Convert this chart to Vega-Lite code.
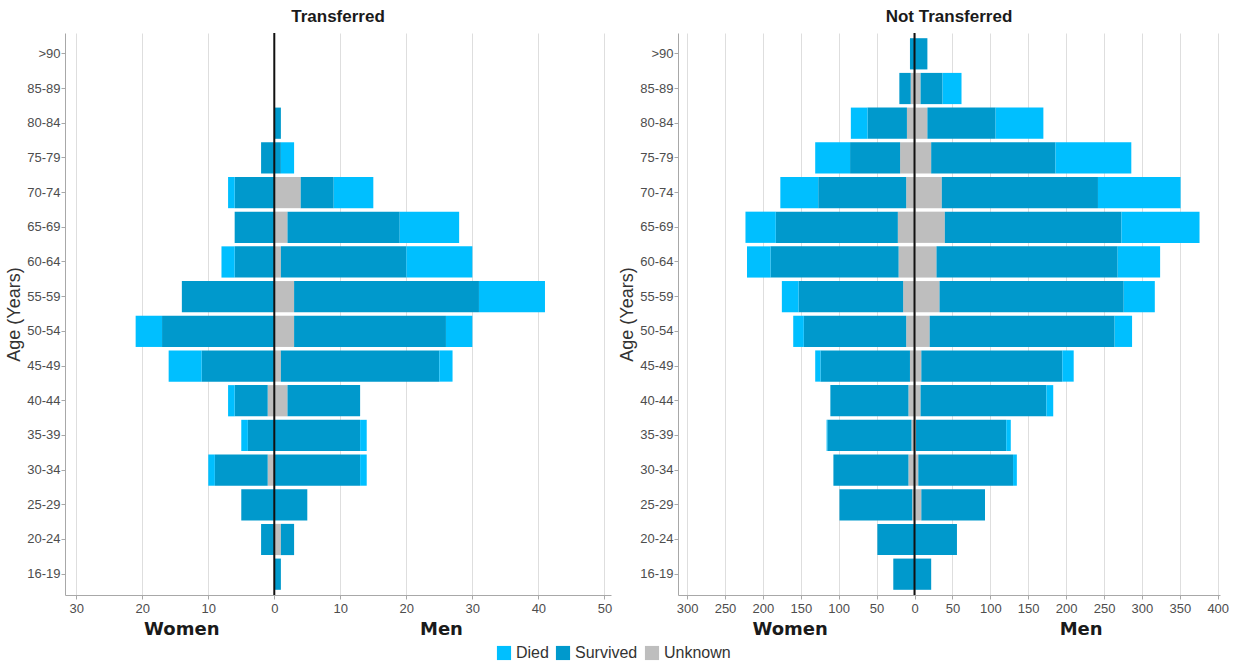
{
  "$schema": "https://vega.github.io/schema/vega-lite/v6.json",
  "padding": {"left": 5, "top": 8, "right": 5, "bottom": 5},
  "background": "white",
  "datasets": {
    "pyr": [
      {"p": "T", "age": "80-84", "sex": "Men", "status": "Survived", "n": 1},
      {"p": "T", "age": "75-79", "sex": "Women", "status": "Survived", "n": -2},
      {"p": "T", "age": "75-79", "sex": "Men", "status": "Survived", "n": 1},
      {"p": "T", "age": "75-79", "sex": "Men", "status": "Died", "n": 2},
      {"p": "T", "age": "70-74", "sex": "Women", "status": "Survived", "n": -6},
      {"p": "T", "age": "70-74", "sex": "Women", "status": "Died", "n": -1},
      {"p": "T", "age": "70-74", "sex": "Men", "status": "Unknown", "n": 4},
      {"p": "T", "age": "70-74", "sex": "Men", "status": "Survived", "n": 5},
      {"p": "T", "age": "70-74", "sex": "Men", "status": "Died", "n": 6},
      {"p": "T", "age": "65-69", "sex": "Women", "status": "Survived", "n": -6},
      {"p": "T", "age": "65-69", "sex": "Men", "status": "Unknown", "n": 2},
      {"p": "T", "age": "65-69", "sex": "Men", "status": "Survived", "n": 17},
      {"p": "T", "age": "65-69", "sex": "Men", "status": "Died", "n": 9},
      {"p": "T", "age": "60-64", "sex": "Women", "status": "Survived", "n": -6},
      {"p": "T", "age": "60-64", "sex": "Women", "status": "Died", "n": -2},
      {"p": "T", "age": "60-64", "sex": "Men", "status": "Unknown", "n": 1},
      {"p": "T", "age": "60-64", "sex": "Men", "status": "Survived", "n": 19},
      {"p": "T", "age": "60-64", "sex": "Men", "status": "Died", "n": 10},
      {"p": "T", "age": "55-59", "sex": "Women", "status": "Survived", "n": -14},
      {"p": "T", "age": "55-59", "sex": "Men", "status": "Unknown", "n": 3},
      {"p": "T", "age": "55-59", "sex": "Men", "status": "Survived", "n": 28},
      {"p": "T", "age": "55-59", "sex": "Men", "status": "Died", "n": 10},
      {"p": "T", "age": "50-54", "sex": "Women", "status": "Survived", "n": -17},
      {"p": "T", "age": "50-54", "sex": "Women", "status": "Died", "n": -4},
      {"p": "T", "age": "50-54", "sex": "Men", "status": "Unknown", "n": 3},
      {"p": "T", "age": "50-54", "sex": "Men", "status": "Survived", "n": 23},
      {"p": "T", "age": "50-54", "sex": "Men", "status": "Died", "n": 4},
      {"p": "T", "age": "45-49", "sex": "Women", "status": "Survived", "n": -11},
      {"p": "T", "age": "45-49", "sex": "Women", "status": "Died", "n": -5},
      {"p": "T", "age": "45-49", "sex": "Men", "status": "Unknown", "n": 1},
      {"p": "T", "age": "45-49", "sex": "Men", "status": "Survived", "n": 24},
      {"p": "T", "age": "45-49", "sex": "Men", "status": "Died", "n": 2},
      {"p": "T", "age": "40-44", "sex": "Women", "status": "Unknown", "n": -1},
      {"p": "T", "age": "40-44", "sex": "Women", "status": "Survived", "n": -5},
      {"p": "T", "age": "40-44", "sex": "Women", "status": "Died", "n": -1},
      {"p": "T", "age": "40-44", "sex": "Men", "status": "Unknown", "n": 2},
      {"p": "T", "age": "40-44", "sex": "Men", "status": "Survived", "n": 11},
      {"p": "T", "age": "35-39", "sex": "Women", "status": "Survived", "n": -4},
      {"p": "T", "age": "35-39", "sex": "Women", "status": "Died", "n": -1},
      {"p": "T", "age": "35-39", "sex": "Men", "status": "Survived", "n": 13},
      {"p": "T", "age": "35-39", "sex": "Men", "status": "Died", "n": 1},
      {"p": "T", "age": "30-34", "sex": "Women", "status": "Unknown", "n": -1},
      {"p": "T", "age": "30-34", "sex": "Women", "status": "Survived", "n": -8},
      {"p": "T", "age": "30-34", "sex": "Women", "status": "Died", "n": -1},
      {"p": "T", "age": "30-34", "sex": "Men", "status": "Survived", "n": 13},
      {"p": "T", "age": "30-34", "sex": "Men", "status": "Died", "n": 1},
      {"p": "T", "age": "25-29", "sex": "Women", "status": "Survived", "n": -5},
      {"p": "T", "age": "25-29", "sex": "Men", "status": "Survived", "n": 5},
      {"p": "T", "age": "20-24", "sex": "Women", "status": "Survived", "n": -2},
      {"p": "T", "age": "20-24", "sex": "Men", "status": "Unknown", "n": 1},
      {"p": "T", "age": "20-24", "sex": "Men", "status": "Survived", "n": 2},
      {"p": "T", "age": "16-19", "sex": "Men", "status": "Survived", "n": 1},

      {"p": "N", "age": ">90", "sex": "Women", "status": "Survived", "n": -6},
      {"p": "N", "age": ">90", "sex": "Men", "status": "Survived", "n": 17},
      {"p": "N", "age": "85-89", "sex": "Women", "status": "Unknown", "n": -5},
      {"p": "N", "age": "85-89", "sex": "Women", "status": "Survived", "n": -15},
      {"p": "N", "age": "85-89", "sex": "Men", "status": "Unknown", "n": 8},
      {"p": "N", "age": "85-89", "sex": "Men", "status": "Survived", "n": 29},
      {"p": "N", "age": "85-89", "sex": "Men", "status": "Died", "n": 25},
      {"p": "N", "age": "80-84", "sex": "Women", "status": "Unknown", "n": -10},
      {"p": "N", "age": "80-84", "sex": "Women", "status": "Survived", "n": -52},
      {"p": "N", "age": "80-84", "sex": "Women", "status": "Died", "n": -22},
      {"p": "N", "age": "80-84", "sex": "Men", "status": "Unknown", "n": 17},
      {"p": "N", "age": "80-84", "sex": "Men", "status": "Survived", "n": 90},
      {"p": "N", "age": "80-84", "sex": "Men", "status": "Died", "n": 63},
      {"p": "N", "age": "75-79", "sex": "Women", "status": "Unknown", "n": -19},
      {"p": "N", "age": "75-79", "sex": "Women", "status": "Survived", "n": -66},
      {"p": "N", "age": "75-79", "sex": "Women", "status": "Died", "n": -46},
      {"p": "N", "age": "75-79", "sex": "Men", "status": "Unknown", "n": 22},
      {"p": "N", "age": "75-79", "sex": "Men", "status": "Survived", "n": 164},
      {"p": "N", "age": "75-79", "sex": "Men", "status": "Died", "n": 100},
      {"p": "N", "age": "70-74", "sex": "Women", "status": "Unknown", "n": -11},
      {"p": "N", "age": "70-74", "sex": "Women", "status": "Survived", "n": -116},
      {"p": "N", "age": "70-74", "sex": "Women", "status": "Died", "n": -50},
      {"p": "N", "age": "70-74", "sex": "Men", "status": "Unknown", "n": 36},
      {"p": "N", "age": "70-74", "sex": "Men", "status": "Survived", "n": 206},
      {"p": "N", "age": "70-74", "sex": "Men", "status": "Died", "n": 109},
      {"p": "N", "age": "65-69", "sex": "Women", "status": "Unknown", "n": -22},
      {"p": "N", "age": "65-69", "sex": "Women", "status": "Survived", "n": -161},
      {"p": "N", "age": "65-69", "sex": "Women", "status": "Died", "n": -40},
      {"p": "N", "age": "65-69", "sex": "Men", "status": "Unknown", "n": 40},
      {"p": "N", "age": "65-69", "sex": "Men", "status": "Survived", "n": 233},
      {"p": "N", "age": "65-69", "sex": "Men", "status": "Died", "n": 103},
      {"p": "N", "age": "60-64", "sex": "Women", "status": "Unknown", "n": -21},
      {"p": "N", "age": "60-64", "sex": "Women", "status": "Survived", "n": -169},
      {"p": "N", "age": "60-64", "sex": "Women", "status": "Died", "n": -31},
      {"p": "N", "age": "60-64", "sex": "Men", "status": "Unknown", "n": 29},
      {"p": "N", "age": "60-64", "sex": "Men", "status": "Survived", "n": 239},
      {"p": "N", "age": "60-64", "sex": "Men", "status": "Died", "n": 56},
      {"p": "N", "age": "55-59", "sex": "Women", "status": "Unknown", "n": -15},
      {"p": "N", "age": "55-59", "sex": "Women", "status": "Survived", "n": -138},
      {"p": "N", "age": "55-59", "sex": "Women", "status": "Died", "n": -22},
      {"p": "N", "age": "55-59", "sex": "Men", "status": "Unknown", "n": 33},
      {"p": "N", "age": "55-59", "sex": "Men", "status": "Survived", "n": 243},
      {"p": "N", "age": "55-59", "sex": "Men", "status": "Died", "n": 41},
      {"p": "N", "age": "50-54", "sex": "Women", "status": "Unknown", "n": -11},
      {"p": "N", "age": "50-54", "sex": "Women", "status": "Survived", "n": -135},
      {"p": "N", "age": "50-54", "sex": "Women", "status": "Died", "n": -14},
      {"p": "N", "age": "50-54", "sex": "Men", "status": "Unknown", "n": 20},
      {"p": "N", "age": "50-54", "sex": "Men", "status": "Survived", "n": 244},
      {"p": "N", "age": "50-54", "sex": "Men", "status": "Died", "n": 23},
      {"p": "N", "age": "45-49", "sex": "Women", "status": "Unknown", "n": -6},
      {"p": "N", "age": "45-49", "sex": "Women", "status": "Survived", "n": -118},
      {"p": "N", "age": "45-49", "sex": "Women", "status": "Died", "n": -7},
      {"p": "N", "age": "45-49", "sex": "Men", "status": "Unknown", "n": 9},
      {"p": "N", "age": "45-49", "sex": "Men", "status": "Survived", "n": 186},
      {"p": "N", "age": "45-49", "sex": "Men", "status": "Died", "n": 15},
      {"p": "N", "age": "40-44", "sex": "Women", "status": "Unknown", "n": -8},
      {"p": "N", "age": "40-44", "sex": "Women", "status": "Survived", "n": -103},
      {"p": "N", "age": "40-44", "sex": "Men", "status": "Unknown", "n": 8},
      {"p": "N", "age": "40-44", "sex": "Men", "status": "Survived", "n": 166},
      {"p": "N", "age": "40-44", "sex": "Men", "status": "Died", "n": 9},
      {"p": "N", "age": "35-39", "sex": "Women", "status": "Unknown", "n": -4},
      {"p": "N", "age": "35-39", "sex": "Women", "status": "Survived", "n": -111},
      {"p": "N", "age": "35-39", "sex": "Women", "status": "Died", "n": -1},
      {"p": "N", "age": "35-39", "sex": "Men", "status": "Unknown", "n": 2},
      {"p": "N", "age": "35-39", "sex": "Men", "status": "Survived", "n": 119},
      {"p": "N", "age": "35-39", "sex": "Men", "status": "Died", "n": 6},
      {"p": "N", "age": "30-34", "sex": "Women", "status": "Unknown", "n": -8},
      {"p": "N", "age": "30-34", "sex": "Women", "status": "Survived", "n": -99},
      {"p": "N", "age": "30-34", "sex": "Men", "status": "Unknown", "n": 5},
      {"p": "N", "age": "30-34", "sex": "Men", "status": "Survived", "n": 125},
      {"p": "N", "age": "30-34", "sex": "Men", "status": "Died", "n": 5},
      {"p": "N", "age": "25-29", "sex": "Women", "status": "Unknown", "n": -3},
      {"p": "N", "age": "25-29", "sex": "Women", "status": "Survived", "n": -96},
      {"p": "N", "age": "25-29", "sex": "Men", "status": "Unknown", "n": 9},
      {"p": "N", "age": "25-29", "sex": "Men", "status": "Survived", "n": 84},
      {"p": "N", "age": "20-24", "sex": "Women", "status": "Survived", "n": -49},
      {"p": "N", "age": "20-24", "sex": "Men", "status": "Survived", "n": 56},
      {"p": "N", "age": "16-19", "sex": "Women", "status": "Survived", "n": -28},
      {"p": "N", "age": "16-19", "sex": "Men", "status": "Survived", "n": 22}
    ]
  },
  "config": {
    "font": "Liberation Sans",
    "view": {"stroke": null},
    "concat": {"spacing": 6},
    "axis": {
      "labelFont": "Liberation Sans",
      "labelFontSize": 13,
      "labelColor": "#4d4d4d",
      "tickColor": "#a8a8a8",
      "domainColor": "#a8a8a8",
      "gridColor": "#dedede",
      "tickSize": 4,
      "labelOverlap": false
    },
    "title": {"fontSize": 17, "fontWeight": "bold", "color": "#1a1a1a", "offset": 6, "font": "Liberation Sans"},
    "legend": {
      "orient": "none",
      "legendX": 431,
      "legendY": 612,
      "direction": "horizontal",
      "title": null,
      "symbolType": "square",
      "symbolSize": 200,
      "symbolStrokeWidth": 0,
      "labelFontSize": 16,
      "labelColor": "#333333",
      "labelFont": "Liberation Sans",
      "columnPadding": 6,
      "labelOffset": 4
    }
  },
  "hconcat": [
    {
      "title": "Transferred",
      "width": 546,
      "height": 562,
      "layer": [
        {
          "data": {"name": "pyr"},
          "transform": [{"filter": "datum.p == 'T'"}],
          "mark": {"type": "bar"},
          "encoding": {
            "y": {
              "field": "age", "type": "nominal",
              "scale": {"domain": [">90", "85-89", "80-84", "75-79", "70-74", "65-69", "60-64", "55-59", "50-54", "45-49", "40-44", "35-39", "30-34", "25-29", "20-24", "16-19"], "paddingInner": 0.1, "paddingOuter": 0.15},
              "axis": {"title": "Age (Years)", "titleFontSize": 18, "titleFontWeight": "normal", "titleColor": "#333333", "titlePadding": 3, "labelPadding": 1}
            },
            "x": {
              "field": "n", "type": "quantitative", "stack": "zero",
              "scale": {"domain": [-31.7, 51.0], "nice": false, "zero": false},
              "axis": {
                "values": [-30, -20, -10, 0, 10, 20, 30, 40, 50],
                "labelExpr": "abs(datum.value)",
                "title": "Women\u00a0\u00a0\u00a0\u00a0\u00a0\u00a0\u00a0\u00a0\u00a0\u00a0\u00a0\u00a0\u00a0\u00a0\u00a0\u00a0\u00a0\u00a0\u00a0\u00a0\u00a0\u00a0\u00a0\u00a0\u00a0\u00a0\u00a0\u00a0\u00a0\u00a0\u00a0\u00a0Men",
                "titleFont": "DejaVu Sans", "titleFontSize": 18, "titleFontWeight": "bold", "titleColor": "#1a1a1a",
                "titleX": 238, "titlePadding": 5, "labelPadding": 3
              }
            },
            "color": {
              "field": "status", "type": "nominal",
              "scale": {"domain": ["Died", "Survived", "Unknown"], "range": ["#00BFFF", "#0099CC", "#BEBEBE"]}
            },
            "order": {"field": "status", "sort": "descending"}
          }
        },
        {
          "data": {"values": [{"n": 0}]},
          "mark": {"type": "rule", "color": "#111111", "strokeWidth": 2},
          "encoding": {
            "x": {
              "field": "n", "type": "quantitative",
              "axis": {
                "values": [-30, -20, -10, 0, 10, 20, 30, 40, 50],
                "labelExpr": "abs(datum.value)",
                "title": "Women\u00a0\u00a0\u00a0\u00a0\u00a0\u00a0\u00a0\u00a0\u00a0\u00a0\u00a0\u00a0\u00a0\u00a0\u00a0\u00a0\u00a0\u00a0\u00a0\u00a0\u00a0\u00a0\u00a0\u00a0\u00a0\u00a0\u00a0\u00a0\u00a0\u00a0\u00a0\u00a0Men",
                "titleFont": "DejaVu Sans", "titleFontSize": 18, "titleFontWeight": "bold", "titleColor": "#1a1a1a",
                "titleX": 238, "titlePadding": 5, "labelPadding": 3
              }
            }
          }
        }
      ]
    },
    {
      "title": "Not Transferred",
      "width": 542,
      "height": 562,
      "layer": [
        {
          "data": {"name": "pyr"},
          "transform": [{"filter": "datum.p == 'N'"}],
          "mark": {"type": "bar"},
          "encoding": {
            "y": {
              "field": "age", "type": "nominal",
              "scale": {"domain": [">90", "85-89", "80-84", "75-79", "70-74", "65-69", "60-64", "55-59", "50-54", "45-49", "40-44", "35-39", "30-34", "25-29", "20-24", "16-19"], "paddingInner": 0.1, "paddingOuter": 0.15},
              "axis": {"title": "Age (Years)", "titleFontSize": 18, "titleFontWeight": "normal", "titleColor": "#333333", "titlePadding": 3, "labelPadding": 1}
            },
            "x": {
              "field": "n", "type": "quantitative", "stack": "zero",
              "scale": {"domain": [-312, 403], "nice": false, "zero": false},
              "axis": {
                "values": [-300, -250, -200, -150, -100, -50, 0, 50, 100, 150, 200, 250, 300, 350, 400],
                "labelExpr": "abs(datum.value)",
                "title": "Women\u00a0\u00a0\u00a0\u00a0\u00a0\u00a0\u00a0\u00a0\u00a0\u00a0\u00a0\u00a0\u00a0\u00a0\u00a0\u00a0\u00a0\u00a0\u00a0\u00a0\u00a0\u00a0\u00a0\u00a0\u00a0\u00a0\u00a0\u00a0\u00a0\u00a0\u00a0\u00a0\u00a0\u00a0\u00a0\u00a0\u00a0Men",
                "titleFont": "DejaVu Sans", "titleFontSize": 18, "titleFontWeight": "bold", "titleColor": "#1a1a1a",
                "titleX": 249, "titlePadding": 5, "labelPadding": 3
              }
            },
            "color": {
              "field": "status", "type": "nominal",
              "scale": {"domain": ["Died", "Survived", "Unknown"], "range": ["#00BFFF", "#0099CC", "#BEBEBE"]}
            },
            "order": {"field": "status", "sort": "descending"}
          }
        },
        {
          "data": {"values": [{"n": 0}]},
          "mark": {"type": "rule", "color": "#111111", "strokeWidth": 2},
          "encoding": {
            "x": {
              "field": "n", "type": "quantitative",
              "axis": {
                "values": [-300, -250, -200, -150, -100, -50, 0, 50, 100, 150, 200, 250, 300, 350, 400],
                "labelExpr": "abs(datum.value)",
                "title": "Women\u00a0\u00a0\u00a0\u00a0\u00a0\u00a0\u00a0\u00a0\u00a0\u00a0\u00a0\u00a0\u00a0\u00a0\u00a0\u00a0\u00a0\u00a0\u00a0\u00a0\u00a0\u00a0\u00a0\u00a0\u00a0\u00a0\u00a0\u00a0\u00a0\u00a0\u00a0\u00a0\u00a0\u00a0\u00a0\u00a0\u00a0Men",
                "titleFont": "DejaVu Sans", "titleFontSize": 18, "titleFontWeight": "bold", "titleColor": "#1a1a1a",
                "titleX": 249, "titlePadding": 5, "labelPadding": 3
              }
            }
          }
        }
      ]
    }
  ]
}
